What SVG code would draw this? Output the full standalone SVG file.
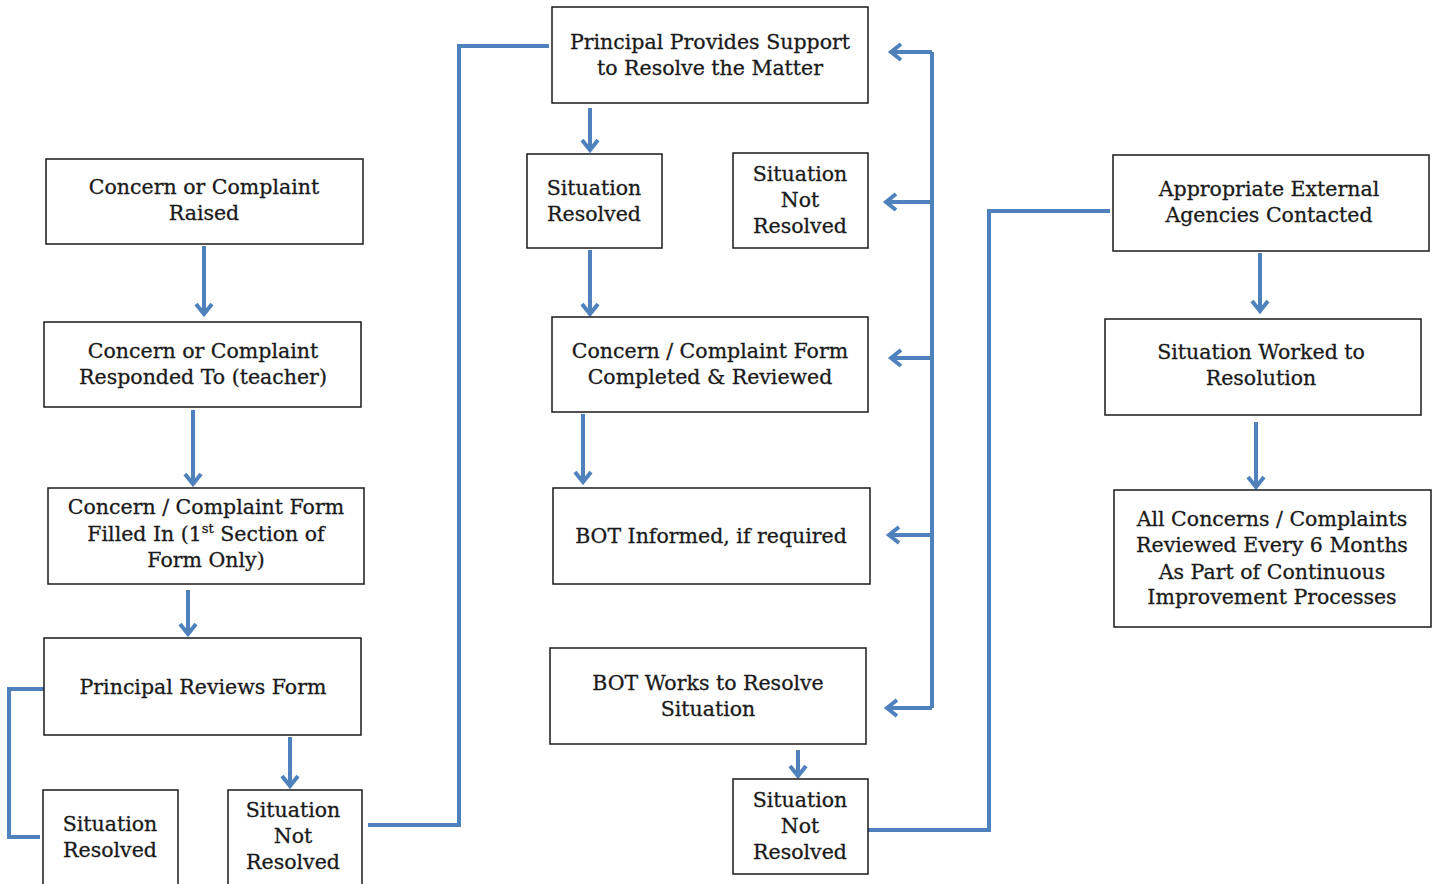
<svg xmlns="http://www.w3.org/2000/svg" width="1440" height="884" viewBox="0 0 1440 884">
<style>
.box{fill:#fff;stroke:#1a1a1a;stroke-width:1.5}
.t{font-family:"DejaVu Serif","Liberation Serif",serif;font-size:20.5px;fill:#1a1a1a;stroke:#1a1a1a;stroke-width:0.3;text-anchor:middle}
.c{fill:none;stroke:#4F81BD;stroke-width:4;stroke-linejoin:miter}
.a{marker-end:url(#ah)}
</style>
<defs>
<marker id="ah" markerUnits="userSpaceOnUse" markerWidth="22" markerHeight="22" viewBox="0 0 22 22" refX="18" refY="11" orient="auto">
<path d="M8,3 L18,11 L8,19" fill="none" stroke="#4F81BD" stroke-width="4" stroke-linejoin="miter"/>
</marker>
</defs>
<rect width="1440" height="884" fill="#fff"/>
<g id="connectors">
<path class="c a" d="M204,246 V314"/>
<path class="c a" d="M193,410 V484"/>
<path class="c a" d="M188,590 V634"/>
<path class="c" d="M44,689 H9 V837 H40"/>
<path class="c a" d="M290,737 V786"/>
<path class="c" d="M368,825 H459 V46 H549"/>
<path class="c a" d="M590,108 V150"/>
<path class="c a" d="M590,250 V314"/>
<path class="c a" d="M583,414 V482"/>
<path class="c a" d="M798,750 V776"/>
<path class="c" d="M932,52 V708"/>
<path class="c a" d="M932,52 H891"/>
<path class="c a" d="M932,202 H886"/>
<path class="c a" d="M932,358 H891"/>
<path class="c a" d="M932,535 H889"/>
<path class="c a" d="M932,708 H887"/>
<path class="c" d="M868,830 H989 V211 H1110"/>
<path class="c a" d="M1260,253 V311"/>
<path class="c a" d="M1256,422 V487"/>
</g>
<g id="n1"><rect class="box" x="46" y="159" width="317" height="85"/>
<text class="t" x="204" y="194">Concern or Complaint</text><text class="t" x="204" y="220">Raised</text></g>
<g id="n2"><rect class="box" x="44" y="322" width="317" height="85"/>
<text class="t" x="203" y="358">Concern or Complaint</text><text class="t" x="203" y="384">Responded To (teacher)</text></g>
<g id="n3"><rect class="box" x="48" y="488" width="316" height="96"/>
<text class="t" x="206" y="514">Concern / Complaint Form</text>
<text class="t" x="206" y="541">Filled In (1<tspan font-size="13" dy="-8">st</tspan><tspan dy="8"> Section of</tspan></text>
<text class="t" x="206" y="567">Form Only)</text></g>
<g id="n4"><rect class="box" x="44" y="638" width="317" height="97"/>
<text class="t" x="203" y="694">Principal Reviews Form</text></g>
<g id="n5"><rect class="box" x="43" y="790" width="135" height="100"/>
<text class="t" x="110" y="831">Situation</text><text class="t" x="110" y="857">Resolved</text></g>
<g id="n6"><rect class="box" x="228" y="790" width="134" height="100"/>
<text class="t" x="293" y="817">Situation</text><text class="t" x="293" y="843">Not</text><text class="t" x="293" y="869">Resolved</text></g>
<g id="n7"><rect class="box" x="552" y="7" width="316" height="96"/>
<text class="t" x="710" y="49">Principal Provides Support</text><text class="t" x="710" y="75">to Resolve the Matter</text></g>
<g id="n8"><rect class="box" x="527" y="154" width="135" height="94"/>
<text class="t" x="594" y="195">Situation</text><text class="t" x="594" y="221">Resolved</text></g>
<g id="n9"><rect class="box" x="733" y="153" width="135" height="95"/>
<text class="t" x="800" y="181">Situation</text><text class="t" x="800" y="207">Not</text><text class="t" x="800" y="233">Resolved</text></g>
<g id="n10"><rect class="box" x="552" y="317" width="316" height="95"/>
<text class="t" x="710" y="358">Concern / Complaint Form</text><text class="t" x="710" y="384">Completed &amp; Reviewed</text></g>
<g id="n11"><rect class="box" x="553" y="488" width="317" height="96"/>
<text class="t" x="711" y="543">BOT Informed, if required</text></g>
<g id="n12"><rect class="box" x="550" y="648" width="316" height="96"/>
<text class="t" x="708" y="690">BOT Works to Resolve</text><text class="t" x="708" y="716">Situation</text></g>
<g id="n13"><rect class="box" x="733" y="779" width="135" height="95"/>
<text class="t" x="800" y="807">Situation</text><text class="t" x="800" y="833">Not</text><text class="t" x="800" y="859">Resolved</text></g>
<g id="n14"><rect class="box" x="1113" y="155" width="316" height="96"/>
<text class="t" x="1269" y="196">Appropriate External</text><text class="t" x="1269" y="222">Agencies Contacted</text></g>
<g id="n15"><rect class="box" x="1105" y="319" width="316" height="96"/>
<text class="t" x="1261" y="359">Situation Worked to</text><text class="t" x="1261" y="385">Resolution</text></g>
<g id="n16"><rect class="box" x="1114" y="490" width="317" height="137"/>
<text class="t" x="1272" y="526">All Concerns / Complaints</text><text class="t" x="1272" y="552">Reviewed Every 6 Months</text><text class="t" x="1272" y="579">As Part of Continuous</text><text class="t" x="1272" y="604">Improvement Processes</text></g>
</svg>
